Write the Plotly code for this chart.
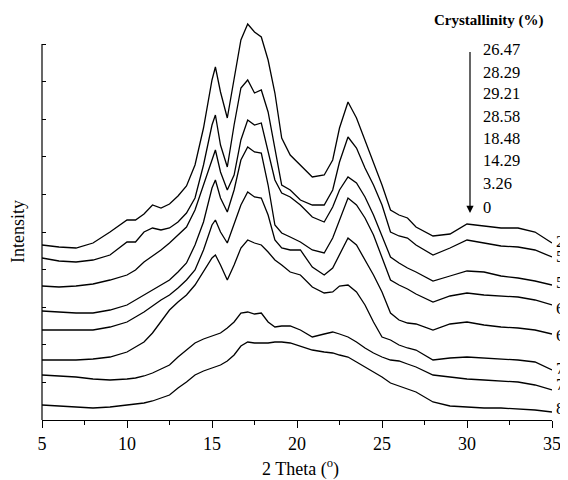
import plotly.graph_objects as go

# 2-theta grid (degrees)
two_theta = [5, 6, 7, 8, 9, 10, 10.5, 11, 11.5, 12, 12.5, 13, 13.5, 14, 14.5, 15, 15.2, 15.5, 15.9,
             16.3, 16.7, 17.1, 17.5, 17.9, 18.3, 18.7, 19.1, 19.6, 20.2, 20.9, 21.6, 22.1, 22.5, 23,
             23.5, 24, 24.5, 25, 25.5, 26, 26.5, 27, 28, 29, 30, 31, 32, 33, 34, 35]

# Intensity (arbitrary units, offset stacked)
i_25 = [175, 173, 172, 177, 188, 200, 200, 206, 215, 212, 216, 224, 234, 255, 292, 340, 353, 328, 302,
        343, 380, 396, 388, 383, 360, 327, 282, 265, 255, 243, 245, 260, 292, 318, 302, 280, 257, 235,
        210, 205, 202, 193, 184, 186, 196, 194, 192, 192, 188, 177]
i_50 = [162, 159, 158, 160, 165, 178, 178, 188, 192, 190, 192, 198, 207, 222, 255, 295, 305, 275, 253,
        295, 332, 340, 327, 330, 308, 270, 235, 230, 220, 215, 215, 230, 258, 283, 272, 252, 235, 215,
        188, 184, 182, 175, 165, 172, 180, 177, 174, 173, 170, 163]
i_55 = [134, 133, 134, 136, 140, 145, 150, 158, 164, 170, 177, 185, 193, 210, 235, 262, 270, 248, 230,
        245, 280, 300, 295, 297, 270, 240, 227, 223, 215, 203, 198, 213, 230, 243, 237, 223, 205, 183,
        163, 157, 152, 148, 139, 144, 149, 148, 144, 142, 139, 135]
i_60 = [109, 108, 107, 107, 110, 115, 120, 125, 130, 135, 140, 148, 157, 175, 198, 232, 240, 222, 208,
        230, 260, 273, 268, 267, 235, 195, 187, 183, 178, 170, 167, 182, 200, 222, 215, 202, 185, 162,
        140, 135, 131, 126, 118, 124, 127, 125, 124, 123, 120, 115]
i_65 = [90, 90, 90, 90, 93, 98, 103, 108, 114, 120, 125, 132, 140, 150, 170, 195, 200, 188, 177,
        195, 215, 228, 223, 222, 205, 180, 172, 170, 170, 153, 145, 152, 165, 182, 175, 160, 145, 128,
        107, 100, 97, 96, 90, 96, 98, 95, 93, 92, 90, 86]
i_70 = [60, 60, 60, 61, 63, 68, 73, 78, 87, 98, 110, 118, 125, 135, 148, 162, 165, 155, 140,
        155, 172, 180, 177, 175, 168, 160, 155, 148, 145, 133, 127, 128, 134, 135, 128, 115, 98, 83,
        80, 75, 72, 70, 60, 62, 63, 62, 61, 60, 58, 50]
i_75 = [45, 44, 43, 41, 40, 41, 42, 44, 47, 51, 55, 63, 70, 77, 81, 84, 85, 87, 92,
        98, 107, 108, 106, 107, 98, 93, 94, 94, 90, 83, 86, 88, 86, 83, 78, 72, 67, 63,
        60, 59, 56, 53, 45, 43, 41, 40, 39, 38, 35, 30]
i_80 = [15, 14, 13, 12, 13, 15, 16, 17, 19, 22, 25, 32, 38, 45, 49, 52, 53, 55, 59,
        65, 74, 78, 77, 77, 77, 78, 78, 77, 74, 70, 68, 67, 65, 63, 58, 53, 48, 43,
        37, 34, 31, 28, 18, 14, 13, 12, 12, 11, 10, 8]

series = [i_25, i_50, i_55, i_60, i_65, i_70, i_75, i_80]
series_labels = ["25", "50", "55", "60", "65", "70", "75", "80"]
crystallinity = ["26.47", "28.29", "29.21", "28.58", "18.48", "14.29", "3.26", "0"]
x_ticks = [5, 10, 15, 20, 25, 30, 35]
x_minor = [7.5, 12.5, 17.5, 22.5, 27.5, 32.5]
y_ticks = [i * 37.6 for i in range(11)]

FONT = "Liberation Serif, Times New Roman, serif"

# page body has an 8px margin; figure is sized/positioned to compensate
OFF = 8
W, H = 568 - OFF, 480 - OFF
# plot area in window pixels: x 42..552, y 10..420
L, R, T, B = 42 - OFF, 568 - 552, 10 - OFF, 480 - 420
PW, PH = W - L - R, H - T - B


def px(xw):
    return (xw - OFF - L) / PW


def py(yw):
    return (H - B - (yw - OFF)) / PH


fig = go.Figure()
for s in series:
    fig.add_trace(go.Scatter(x=two_theta, y=s, mode="lines",
                             line=dict(color="black", width=1.3), hoverinfo="skip"))

annotations = []
label_y = [241, 256, 283, 308, 335, 368, 384, 408]
for lab, yy in zip(series_labels, label_y):
    annotations.append(dict(x=px(554), y=py(yy), xref="paper", yref="paper", text=lab,
                            showarrow=False, xanchor="left", yanchor="middle",
                            font=dict(family=FONT, size=17, color="black")))

annotations.append(dict(x=px(489), y=py(20), xref="paper", yref="paper",
                        text="<b>Crystallinity (%)</b>", showarrow=False,
                        xanchor="center", yanchor="middle",
                        font=dict(family=FONT, size=15, color="black")))
cy = [50, 72, 94, 116, 138, 160, 183, 207]
for v, yy in zip(crystallinity, cy):
    annotations.append(dict(x=px(481), y=py(yy), xref="paper", yref="paper", text=v,
                            showarrow=False, xanchor="left", yanchor="middle",
                            font=dict(family=FONT, size=16.5, color="black")))
annotations.append(dict(x=px(470), y=py(213), xref="paper", yref="paper", text=" ",
                        showarrow=True, ax=0, ay=-171, arrowhead=2, arrowsize=1.2,
                        arrowwidth=1.2, arrowcolor="black"))

annotations.append(dict(x=px(300), y=py(468), xref="paper", yref="paper",
                        text="2 Theta (<sup>o</sup>)", showarrow=False,
                        xanchor="center", yanchor="middle",
                        font=dict(family=FONT, size=18, color="black")))
annotations.append(dict(x=px(18), y=py(232), xref="paper", yref="paper",
                        text="Intensity", showarrow=False, textangle=-90,
                        xanchor="center", yanchor="middle",
                        font=dict(family=FONT, size=18, color="black")))

fig.update_layout(
    width=W, height=H,
    margin=dict(l=L, r=R, t=T, b=B, autoexpand=False),
    plot_bgcolor="white", paper_bgcolor="white",
    showlegend=False,
    annotations=annotations,
    shapes=[dict(type="line", xref="paper", yref="y", x0=0, x1=0, y0=0, y1=376,
                 line=dict(color="black", width=1.2))],
    xaxis=dict(range=[5, 35], tickmode="array", tickvals=x_ticks, ticks="outside",
               ticklen=7, tickwidth=1.2, tickcolor="black",
               minor=dict(tickmode="array", tickvals=x_minor, ticks="outside", ticklen=4,
                          tickwidth=1.2, tickcolor="black"),
               showline=True, linecolor="black", linewidth=1.2, showgrid=False, zeroline=False,
               tickfont=dict(family=FONT, size=18, color="black")),
    yaxis=dict(range=[0, PH], tickmode="array", tickvals=y_ticks, ticks="inside",
               ticklen=4, tickwidth=1, tickcolor="black", showticklabels=False,
               showline=False, showgrid=False, zeroline=False),
)

fig.write_html("out.html")
